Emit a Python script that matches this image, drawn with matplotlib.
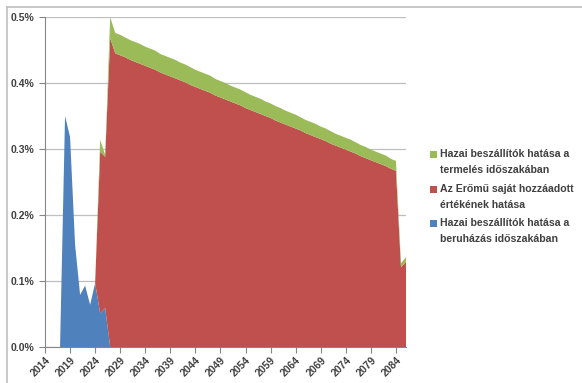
"""stacked area chart: effect of domestic suppliers and the plant's own value added"""

import matplotlib
matplotlib.use("Agg")
import matplotlib.pyplot as plt
from matplotlib.lines import Line2D
from matplotlib.patches import Rectangle

years = list(range(2014, 2087))

# % values, stacked bottom -> top
blue_invest = [0, 0, 0, 0, 0.350, 0.318, 0.155, 0.079, 0.093, 0.064, 0.097,
               0.051, 0.059] + [0] * 60

red_plant = [0] * 11 + [0.245, 0.229, 0.468,
    0.445, 0.442, 0.439, 0.435, 0.432, 0.429, 0.426, 0.423, 0.420, 0.416,
    0.413, 0.410, 0.407, 0.404, 0.401, 0.397, 0.394, 0.391, 0.388, 0.385,
    0.381, 0.378, 0.375, 0.372, 0.369, 0.366, 0.362, 0.359, 0.356, 0.353,
    0.350, 0.347, 0.343, 0.340, 0.337, 0.334, 0.331, 0.328, 0.324, 0.321,
    0.318, 0.315, 0.312, 0.308, 0.305, 0.302, 0.299, 0.296, 0.293, 0.289,
    0.286, 0.283, 0.280, 0.277, 0.274, 0.270, 0.267,
    0.121, 0.129]

green_prod = [0] * 11 + [0.018, 0.003, 0.032,
    0.031, 0.031, 0.030, 0.030, 0.030, 0.030, 0.029, 0.029, 0.029, 0.028,
    0.028, 0.028, 0.028, 0.027, 0.027, 0.027, 0.026, 0.026, 0.026, 0.026,
    0.025, 0.025, 0.025, 0.024, 0.024, 0.024, 0.024, 0.023, 0.023, 0.023,
    0.022, 0.022, 0.022, 0.022, 0.021, 0.021, 0.021, 0.020, 0.020, 0.020,
    0.020, 0.019, 0.019, 0.019, 0.018, 0.018, 0.018, 0.018, 0.017, 0.017,
    0.017, 0.016, 0.016, 0.016, 0.016, 0.015, 0.015,
    0.006, 0.007]

labels = ["Hazai beszállítók hatása a\ntermelés időszakában",
          "Az Erőmű saját hozzáadott\nértékének hatása",
          "Hazai beszállítók hatása a\nberuházás időszakában"]
colors = ["#9BBB59", "#C0504D", "#4F81BD"]  # green, red, blue

tick_years = list(range(2014, 2087, 5))
y_ticks = [0.0, 0.1, 0.2, 0.3, 0.4, 0.5]

plt.rcParams["font.family"] = ["Liberation Sans", "DejaVu Sans"]

W, H = 582, 383
fig = plt.figure(figsize=(W / 100, H / 100), dpi=100)
ax = fig.add_axes([45 / W, 36 / H, 361 / W, 330 / H])

ax.stackplot(years, blue_invest, red_plant, green_prod,
             colors=[colors[2], colors[1], colors[0]], linewidth=0)

ax.set_xlim(2014, 2086)
ax.set_ylim(0, 0.5)
ax.set_yticks(y_ticks)
ax.set_yticklabels(["%.1f%%" % v for v in y_ticks])
ax.set_xticks(tick_years)
ax.set_xticklabels([str(y) for y in tick_years], rotation=45,
                   ha="right", va="top", rotation_mode="anchor")

ax.grid(axis="y", color="#BFBFBF", linewidth=0.9)
ax.set_axisbelow(True)
for side in ["top", "right"]:
    ax.spines[side].set_visible(False)
ax.spines["left"].set_color("#868686")
ax.spines["bottom"].set_color("#868686")
ax.tick_params(axis="both", colors="#868686", length=4, width=0.8,
               labelcolor="#404040", labelsize=7.5)
ax.tick_params(axis="x", pad=2)
for t in ax.get_xticklabels() + ax.get_yticklabels():
    t.set_fontweight("bold")

# legend drawn by hand: square sits beside the first line of each entry
entry_y = [154, 189, 223]   # pixel row of first line centre
for lab, col, yc in zip(labels, colors, entry_y):
    fig.add_artist(Rectangle((430 / W, 1 - (yc + 3.5) / H), 7 / W, 7 / H,
                             facecolor=col, edgecolor="none",
                             transform=fig.transFigure))
    for i, line in enumerate(lab.split("\n")):
        fig.text(440 / W, 1 - (yc + 16 * i) / H, line, ha="left", va="center",
                 fontsize=7.6, fontweight="bold", color="#404040")

# chart-area border (top and left edges are visible in the crop)
fig.add_artist(Line2D([7 / W, 1], [1 - 7 / H, 1 - 7 / H],
                      color="#BFBFBF", linewidth=1.2, transform=fig.transFigure))
fig.add_artist(Line2D([7 / W, 7 / W], [0, 1 - 7 / H],
                      color="#BFBFBF", linewidth=1.2, transform=fig.transFigure))

fig.savefig("out.png", dpi=100)
plt.close(fig)
